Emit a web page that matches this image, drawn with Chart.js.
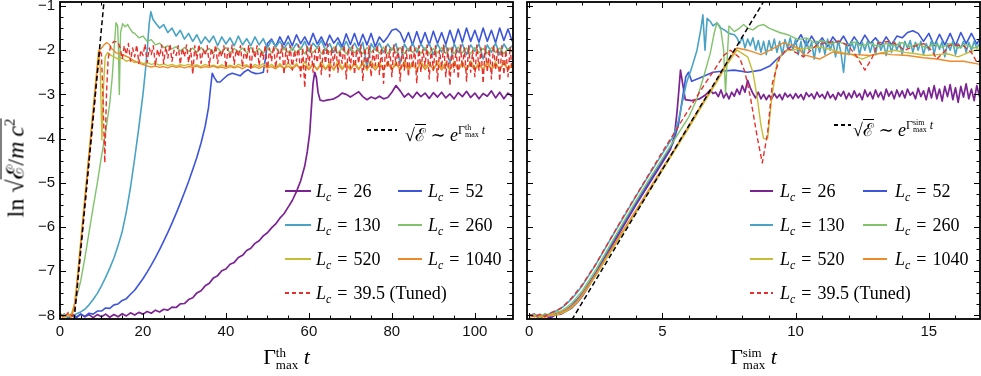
<!DOCTYPE html>
<html>
<head>
<meta charset="utf-8">
<script src="https://cdn.jsdelivr.net/npm/chart.js@4.4.1/dist/chart.umd.min.js"></script>
<style>
  body { margin: 0; background: #fff; }
  #wrap { position: relative; width: 981px; height: 376px; overflow: hidden; font-family: "Liberation Serif", "DejaVu Serif", serif; color: #000; }
  #wrap canvas { position: absolute; top: 0; }
  .txt { position: absolute; white-space: nowrap; font-size: 18px; line-height: 18px; }
  .txt sub { font-size: 12px; line-height: 0; vertical-align: -4px; }
  .eq { margin: 0 6px; }
  .smp { position: absolute; height: 1.6px; }
  .rt { display: inline-block; border-top: 1.2px solid #000; padding-top: 1px; line-height: 1; }
  .stk { display: inline-block; vertical-align: middle; line-height: 0.9; text-align: left; }
  .stk span { display: block; }
  .xt { position: absolute; top: 344px; text-align: center; font-size: 22px; white-space: nowrap; }
</style>
</head>
<body>
<div id="wrap">
  <canvas id="cTh" width="520" height="376" style="left:0"></canvas>
  <canvas id="cSim" width="461" height="376" style="left:520px"></canvas>
  <div style="position:absolute;left:15px;top:168px;transform:translate(-50%,-50%) rotate(-90deg);font-size:24px;white-space:nowrap;">ln √<span class="rt">ℰ/<i>m</i>&thinsp;<i>c</i><sup style="font-size:15px">2</sup></span></div>
  <div class="xt" style="left:60px;width:453px">Γ<span class="stk" style="font-size:13px"><span>th</span><span>max</span></span>&nbsp;<i>t</i></div>
  <div class="xt" style="left:527px;width:453px">Γ<span class="stk" style="font-size:13px"><span>sim</span><span>max</span></span>&nbsp;<i>t</i></div>
</div>
<script>
// ---- axes ----
const yMajor = [-8, -7, -6, -5, -4, -3, -2, -1];
const thXMajor = [0, 20, 40, 60, 80, 100];
const simXMajor = [0, 5, 10, 15];

const legendLc = ['26', '52', '130', '260', '520', '1040'];
const tunedLc = '39.5 (Tuned)';
const colors = ['#7b2393', '#3d55d9', '#4aa3c4', '#81c26b', '#c6bd35', '#ef8a2a', '#e5312d'];
const widths = [1.7, 1.6, 1.6, 1.4, 1.4, 1.4, 1.4];

// ---- left panel: Gamma_th t ----
const thRef = [[3.4, -8.1], [10.6, -0.9]];

const thL26 = [[0,-8.02],[1,-7.97],[2,-8.05],[3,-7.98],[4,-8.04],[5,-7.97],[6,-8.03],[7,-7.98],[8,-8.05],[9,-7.98],[10,-8.03],[11,-7.97],[12,-8.04],[13,-7.98],[14,-8.03],[15,-7.96],[16,-8.01],[17,-7.94],[18,-7.99],[19,-7.93],[20,-7.97],[21,-7.91],[22,-7.95],[23,-7.88],[24,-7.92],[25,-7.86],[26,-7.88],[27,-7.81],[28,-7.82],[29,-7.74],[30,-7.73],[31,-7.64],[32,-7.6],[33,-7.49],[34,-7.44],[35,-7.33],[36,-7.27],[37,-7.15],[38,-7.1],[39,-6.99],[40,-6.95],[41,-6.84],[42,-6.8],[43,-6.69],[44,-6.64],[45,-6.53],[46,-6.48],[47,-6.37],[48,-6.31],[49,-6.2],[50,-6.13],[51,-6.02],[52,-5.93],[53,-5.8],[54,-5.7],[55,-5.55],[56,-5.4],[57,-5.2],[58,-4.96],[59,-4.62],[59.6,-4.3],[60.2,-3.87],[60.6,-3.3],[61,-2.75],[61.4,-2.5],[61.8,-2.62],[62.2,-2.95],[62.7,-3.13],[63.5,-3.15],[64.3,-3.13]];
const thL26Tail = [-3.12,-3.1,-3.05,-2.97,-3.0,-3.06,-3.0,-2.94,-3.05,-3.12,-3.06,-3.1,-3.04,-3.1,-3.07,-2.95,-2.8,-2.92,-3.06,-2.98,-3.08,-2.95,-3.05,-2.97,-3.09,-2.96,-3.06,-2.95,-3.08,-2.99,-3.1,-2.96,-3.05,-2.93,-3.07,-2.97,-3.1,-2.98,-3.04,-2.92,-3.08,-2.95,-3.1,-2.97,-3.05];

const thL52 = [[0,-8.03],[1,-7.98],[2,-8.05],[3,-7.99],[4,-8.04],[5,-7.97],[6,-8.02],[7,-7.95],[8,-7.97],[9,-7.9],[10,-7.9],[11,-7.83],[12,-7.84],[13,-7.76],[14,-7.74],[15,-7.66],[16,-7.62],[17,-7.52],[18,-7.43],[19,-7.3],[20,-7.17],[21,-7.02],[22,-6.86],[23,-6.69],[24,-6.51],[25,-6.32],[26,-6.12],[27,-5.91],[28,-5.69],[29,-5.46],[30,-5.22],[31,-4.97],[32,-4.7],[33,-4.42],[34,-4.1],[35,-3.72],[35.8,-3.3],[36.3,-2.85],[36.7,-2.52],[37.2,-2.62],[37.9,-2.72],[38.6,-2.72],[39.5,-2.64],[40.5,-2.56],[41.5,-2.52],[42.5,-2.55],[43.4,-2.58],[44.3,-2.5],[45.3,-2.44],[46.2,-2.5],[47.2,-2.53],[48.2,-2.52],[49,-2.5],[49.5,-2.2]];
const thL52Tail = [-1.85,-1.75,-1.92,-1.7,-1.88,-1.68,-1.9,-1.65,-1.85,-1.7,-1.88,-1.62,-1.86,-1.7,-1.9,-1.66,-1.84,-1.72,-1.92,-1.63,-1.87,-1.62,-1.9,-1.64,-1.88,-1.62,-1.92,-1.7,-1.82,-1.7,-1.55,-1.52,-1.6,-1.82,-1.6,-1.88,-1.58,-1.86,-1.6,-1.88,-1.57,-1.85,-1.6,-1.87,-1.55,-1.84,-1.52,-1.82,-1.5,-1.8,-1.55,-1.82,-1.5,-1.8,-1.55,-1.83,-1.5,-1.78,-1.52,-1.8];

const thL130 = [[0,-8.0],[1,-8.04],[2,-7.98],[3,-8.02],[4,-7.96],[5,-7.92],[6,-7.86],[7,-7.76],[8,-7.64],[9,-7.5],[10,-7.33],[11,-7.14],[12,-6.93],[13,-6.7],[14,-6.42],[15,-6.1],[16,-5.65],[17,-5.1],[18,-4.45],[19,-3.75],[20,-3.0],[20.6,-2.45],[21.1,-1.9],[21.5,-1.4],[21.9,-1.13],[22.4,-1.3]];
const thL130Tail = [-1.38,-1.5,-1.42,-1.6,-1.5,-1.68,-1.55,-1.75,-1.62,-1.8,
  -1.65,-1.85,-1.7,-1.82,-1.68,-1.9,-1.7,-1.86,-1.72,-1.9,
  -1.68,-1.88,-1.74,-1.9,-1.7,-1.88,-1.74,-1.95,-1.78,-1.92,
  -1.8,-1.96,-1.82,-2.0,-1.85,-1.98,-1.8,-2.02,-1.84,-1.95,
  -1.78,-2.0,-1.85,-2.05,-1.82,-1.98,-1.8,-2.0,-1.84,-2.02,
  -1.82,-2.4,-1.85,-2.0,-1.84,-2.05,-1.86,-2.0,-1.85,-2.3,
  -1.86,-2.02,-1.84,-2.05,-1.86,-2.0,-1.85,-2.1,-1.86,-2.04,
  -1.88,-2.3,-1.85,-2.05,-1.86,-2.1,-1.88,-2.02,-1.86,-2.2,
  -1.88,-2.05,-1.84,-2.1,-1.86,-2.0,-1.9];

const thL260 = [[0,-8.02],[1,-7.97],[2,-8.03],[2.6,-7.97],[3,-7.9],[4,-7.58],[5,-7.22],[6,-6.7],[7,-6.12],[8,-5.55],[9,-5.0],[10,-4.4],[11,-3.85],[12,-3.2],[12.6,-2.6],[13.1,-1.9],[13.5,-1.38],[13.9,-1.45],[14.1,-2.0],[14.3,-3.0],[14.6,-1.6],[15.1,-1.4],[15.7,-1.47],[16.3,-1.42],[16.9,-1.52],[17.5,-1.6]];
const thL260Tail = [-1.62,-1.72,-1.68,-1.8,-1.76,-1.88,-1.84,-1.94,-1.9,-1.97,
  -1.92,-2.02,-1.94,-2.03,-1.95,-2.05,-1.94,-2.04,-1.96,-2.06,
  -1.95,-2.05,-1.94,-2.06,-1.96,-2.04,-1.95,-2.06,-1.94,-2.05,
  -1.96,-2.07,-1.95,-2.05,-1.94,-2.07,-1.96,-2.05,-1.95,-2.06,
  -1.94,-2.08,-1.95,-2.06,-1.94,-2.08,-1.96,-2.05,-1.93,-2.07,
  -1.95,-2.08,-1.94,-2.06,-1.96,-2.08,-1.94,-2.05,-1.95,-2.07,
  -1.93,-2.08,-1.95,-2.06,-1.94,-2.08,-1.96,-2.05,-1.95,-2.07,
  -1.94,-2.08,-1.96,-2.06,-1.94,-2.07,-1.95,-2.08,-1.93,-2.06,
  -1.95,-2.08,-1.94,-2.06,-1.96,-2.07,-1.94,-2.05,-1.95,-2.08,
  -1.96,-2.04];

const thL520 = [[0,-8.0],[1,-8.05],[2,-7.97],[2.6,-8.03],[3,-7.92],[3.5,-7.75],[4,-7.3],[5,-6.3],[6,-5.3],[7,-4.3],[8,-3.3],[8.8,-2.5],[9.3,-2.0],[9.7,-2.4],[10.1,-4.03],[10.5,-2.8],[10.9,-2.15],[11.5,-2.05]];
const thL520Tail = [-2.1,-2.15,-2.2,-2.18,-2.25,-2.22,-2.28,-2.26,-2.3,-2.28,
  -2.32,-2.3,-2.34,-2.31,-2.35,-2.32,-2.36,-2.33,-2.35,-2.32,
  -2.36,-2.33,-2.37,-2.32,-2.36,-2.34,-2.38,-2.33,-2.37,-2.34,
  -2.38,-2.32,-2.36,-2.33,-2.4,-2.32,-2.37,-2.3,-2.38,-2.32,
  -2.4,-2.3,-2.42,-2.28,-2.4,-2.3,-2.44,-2.26,-2.42,-2.3,
  -2.45,-2.25,-2.42,-2.28,-2.46,-2.24,-2.4,-2.28,-2.45,-2.25,
  -2.42,-2.26,-2.46,-2.24,-2.4,-2.27,-2.45,-2.25,-2.43,-2.26,
  -2.46,-2.24,-2.42,-2.27,-2.45,-2.25,-2.4,-2.26,-2.46,-2.24,
  -2.42,-2.27,-2.45,-2.25,-2.43,-2.26,-2.46,-2.24,-2.42,-2.27,
  -2.45,-2.25,-2.43,-2.26,-2.46,-2.24,-2.42,-2.3];

const thL1040 = [[0,-7.97],[1,-8.02],[2,-7.96],[2.7,-8.04],[3,-7.98],[3.6,-7.7],[4,-7.4],[5,-6.4],[6,-5.4],[7,-4.4],[8,-3.4],[9,-2.4],[9.5,-2.0],[10,-1.95],[10.6,-1.88],[11.2,-1.83],[11.8,-1.86],[12.5,-1.97],[13.5,-2.06],[14.5,-2.08],[15.5,-2.12],[16.5,-2.16],[17.5,-2.22],[18.5,-2.27],[19.5,-2.31],[20.5,-2.34],[21.5,-2.37]];
const thL1040Tail = [-2.38,-2.36,-2.39,-2.37,-2.4,-2.36,-2.39,-2.37,-2.4,-2.37,
  -2.39,-2.36,-2.4,-2.37,-2.39,-2.36,-2.4,-2.38,-2.41,-2.37,
  -2.4,-2.37,-2.42,-2.36,-2.4,-2.37,-2.41,-2.36,-2.4,-2.37,
  -2.42,-2.35,-2.41,-2.36,-2.43,-2.34,-2.42,-2.35,-2.44,-2.33,
  -2.43,-2.32,-2.44,-2.33,-2.42,-2.31,-2.44,-2.33,-2.43,-2.32,
  -2.44,-2.31,-2.42,-2.33,-2.45,-2.32,-2.43,-2.3,-2.44,-2.32,
  -2.42,-2.31,-2.45,-2.33,-2.43,-2.3,-2.44,-2.32,-2.42,-2.31,
  -2.45,-2.33,-2.43,-2.3,-2.44,-2.32,-2.42,-2.31,-2.45,-2.33,
  -2.43,-2.3,-2.44,-2.32,-2.42,-2.31,-2.43,-2.35];

const thTuned = [[0,-7.95],[1,-8.05],[2,-7.93],[3,-8.02],[3.6,-7.85],[4,-7.55],[5,-6.55],[6,-5.55],[7,-4.55],[8,-3.55],[9,-2.55],[9.6,-2.0],[10,-2.1],[10.4,-3.2],[10.8,-4.55],[11.2,-3.0],[11.6,-2.2],[12.2,-1.9],[13,-1.8],[14,-1.82],[14.5,-1.95]];
// sampled every 0.5 from t = 15
const thTunedTail = [-2.2,-1.9,-2.1,-1.85,-2.25,-1.95,-2.15,-1.88,-2.3,-2.0,
  -2.12,-1.86,-2.28,-1.95,-2.1,-1.9,-2.35,-1.98,-2.15,-1.88,
  -2.3,-1.92,-2.18,-1.86,-2.25,-2.0,-2.12,-1.9,-2.32,-1.95,
  -2.15,-1.88,-2.28,-1.96,-2.55,-1.9,-2.2,-1.87,-2.3,-1.98,
  -2.12,-1.9,-2.35,-1.95,-2.18,-1.88,-2.3,-2.0,-2.15,-1.9,
  -2.4,-1.95,-2.2,-1.88,-2.32,-1.98,-2.15,-1.9,-2.38,-1.96,
  -2.22,-1.88,-2.45,-1.95,-2.18,-1.9,-2.35,-2.0,-2.2,-1.88,
  -2.5,-1.95,-2.25,-1.9,-2.4,-1.98,-2.2,-1.88,-2.55,-1.95,
  -2.3,-1.9,-2.45,-2.0,-2.25,-1.88,-2.6,-1.95,-2.85,-1.92,
  -2.35,-1.88,-2.5,-2.0,-2.28,-1.9,-2.55,-1.95,-2.3,-1.86,
  -2.6,-1.95,-2.35,-1.9,-2.5,-2.0,-2.3,-1.88,-2.65,-1.95,
  -2.4,-1.9,-2.55,-1.98,-2.3,-1.88,-2.7,-1.95,-2.4,-1.9,
  -2.6,-2.0,-2.35,-1.88,-2.55,-1.95,-2.75,-1.9,-2.4,-1.98,
  -2.6,-1.88,-2.35,-1.95,-2.7,-1.9,-2.45,-2.0,-2.6,-1.88,
  -2.4,-1.95,-2.75,-1.9,-2.5,-1.98,-2.35,-1.88,-2.65,-1.95,
  -2.45,-1.9,-2.7,-2.0,-2.4,-1.88,-2.6,-1.95,-2.8,-1.9,
  -2.5,-1.98,-2.65,-1.88,-2.4,-1.95,-2.7,-1.9,-2.5,-2.0,
  -2.6,-1.88,-2.45,-1.95,-2.75,-1.9,-2.5,-1.98,-2.65,-1.88,
  -2.45,-1.95,-2.7,-1.9,-2.55,-2.0,-2.6,-1.92,-2.5];

// ---- right panel: Gamma_sim t ----
const simRef = [[1.6, -8.1], [8.8, -0.9]];

const simL26 = [[0,-8.0],[0.2,-7.97],[0.4,-8.05],[0.6,-8.0],[0.8,-8.06],[1.0,-7.98],[1.2,-7.97],[1.4,-7.9],[1.6,-7.83],[1.8,-7.71],[2.0,-7.56],[2.5,-7.08],[3.0,-6.55],[3.5,-6.02],[4.0,-5.51],[4.5,-5.02],[5.0,-4.54],[5.3,-4.25],[5.45,-3.95],[5.55,-3.4],[5.62,-2.9],[5.68,-2.45],[5.76,-2.75],[5.86,-3.12],[6.1,-3.14],[6.4,-3.1],[6.6,-3.02],[6.8,-2.9],[6.9,-2.98]];
const simL26Tail = [-2.95,-3.05,-2.9,-3.08,-2.97,-3.1,-2.95,-3.04,-2.88,-3.0,
  -2.8,-2.95,-2.68,-2.85,-2.98,-3.08,-2.95,-3.1,-3.0,-3.12,
  -3.02,-3.1,-2.98,-3.08,-3.0,-3.12,-2.97,-3.06,-3.0,-3.1,
  -2.98,-3.08,-3.0,-3.12,-2.96,-3.05,-2.99,-3.1,-2.95,-3.06,
  -3.0,-3.1,-2.94,-3.08,-3.0,-3.12,-2.96,-3.04,-2.93,-3.1,
  -2.97,-3.08,-2.92,-3.06,-2.98,-3.12,-2.9,-3.05,-2.95,-3.1,
  -2.9,-3.06,-2.95,-3.12,-2.88,-3.04,-2.93,-3.1,-2.9,-3.05,
  -2.92,-3.08,-2.88,-3.02,-2.95,-3.1,-2.86,-3.05,-2.92,-3.12,
  -2.85,-3.08,-2.8,-3.1,-2.88,-3.15,-2.82,-3.05,-2.78,-3.12,
  -2.85,-3.18,-2.82,-3.06,-2.76,-3.1,-2.88,-3.14,-2.8,-3.05];

const simL52 = [[0,-8.03],[0.2,-8.0],[0.4,-8.06],[0.6,-7.98],[0.8,-8.02],[1.0,-7.96],[1.2,-7.93],[1.4,-7.86],[1.6,-7.77],[1.8,-7.64],[2.0,-7.5],[2.5,-7.03],[3.0,-6.5],[3.5,-5.98],[4.0,-5.47],[4.5,-4.98],[5.0,-4.5],[5.4,-4.1],[5.6,-3.7],[5.75,-3.1],[5.88,-2.6],[5.98,-2.5],[6.1,-2.7],[6.4,-2.63],[6.7,-2.55],[6.9,-2.5],[7.3,-2.47],[7.7,-2.45],[8.2,-2.5],[8.7,-2.45],[9.05,-2.35],[9.3,-2.2],[9.55,-2.07],[9.8,-1.93]];
const simL52Tail = [-1.85,-1.65,-1.9,-1.68,-1.88,-1.72,-1.92,-1.7,-1.86,-1.68,
  -1.9,-1.7,-1.88,-1.66,-1.85,-1.72,-1.9,-1.7,-1.88,-1.68,
  -1.72,-1.6,-1.56,-1.62,-1.8,-1.62,-1.9,-1.64,-1.88,-1.62,
  -1.9,-1.6,-1.85,-1.62,-1.86,-1.65];

const simL130 = [[0,-7.98],[0.2,-8.02],[0.4,-7.97],[0.6,-8.03],[0.8,-7.95],[1.0,-7.9],[1.2,-7.84],[1.4,-7.74],[1.6,-7.62],[1.8,-7.48],[2.0,-7.32],[2.5,-6.85],[3.0,-6.33],[3.5,-5.82],[4.0,-5.31],[4.5,-4.82],[5.0,-4.34],[5.4,-3.96],[5.6,-3.6],[5.9,-2.75],[6.1,-2.4],[6.3,-2.0],[6.45,-1.5],[6.52,-1.2],[6.6,-2.0],[6.68,-1.28],[6.8,-1.35],[6.9,-1.45],[7.05,-1.38],[7.2,-1.5],[7.35,-1.55],[7.5,-1.62],[7.7,-1.65]];
const simL130Tail = [-1.72,-1.85,-1.7,-1.95,-1.75,-1.9,-1.72,-2.0,-1.78,-2.05,
  -1.8,-2.1,-1.78,-2.0,-1.75,-2.05,-1.8,-2.1,-1.76,-1.95,
  -1.72,-2.0,-1.75,-2.1,-1.8,-2.15,-1.76,-2.0,-1.82,-2.2,
  -1.8,-2.05,-1.78,-2.1,-1.75,-2.0,-1.8,-2.15,-1.78,-2.05,
  -2.5,-1.85,-2.1,-1.8,-2.0,-1.78,-2.1,-1.82,-2.0,-1.8,
  -2.05,-1.82,-2.1,-1.78,-2.0,-1.85,-2.12,-1.8,-2.05,-1.78,
  -2.0,-1.82,-2.1,-1.8,-1.95,-1.78,-2.05,-1.82,-2.0,-1.8,
  -2.1,-1.85,-2.0,-1.78,-2.08,-1.82,-1.98,-1.8,-2.15,-1.85,
  -2.0,-1.8,-2.1,-1.85,-1.95,-1.8,-2.05,-1.82,-2.0,-1.8,
  -1.95,-1.85,-1.9];

const simL260 = [[0,-8.02],[0.2,-7.98],[0.4,-8.03],[0.6,-7.96],[0.8,-8.0],[1.0,-7.93],[1.2,-7.9],[1.4,-7.82],[1.6,-7.72],[1.8,-7.58],[2.0,-7.44],[2.5,-6.97],[3.0,-6.45],[3.5,-5.93],[4.0,-5.42],[4.5,-4.93],[5.0,-4.45],[5.5,-3.98],[6.0,-3.5],[6.3,-3.1],[6.55,-2.6],[6.8,-2.06],[6.95,-1.6],[7.05,-1.38],[7.2,-1.55],[7.3,-2.0],[7.37,-2.97],[7.45,-2.0],[7.5,-1.45],[7.7,-1.58],[7.9,-1.5],[8.05,-1.42],[8.2,-1.5],[8.4,-1.54],[8.6,-1.45],[8.8,-1.42],[9.0,-1.5],[9.4,-1.6],[9.7,-1.65],[10.1,-1.76],[10.4,-1.72],[10.7,-1.83],[11.0,-1.78],[11.3,-1.86],[11.6,-1.8],[11.9,-1.88],[12.2,-1.82],[12.5,-1.9],[12.8,-1.84],[13.1,-1.92],[13.4,-1.85],[13.7,-1.9],[14.0,-1.83],[14.3,-1.92],[14.6,-1.86],[14.9,-1.95],[15.2,-1.86],[15.5,-1.93],[15.8,-1.85],[16.1,-1.95],[16.4,-1.88],[16.7,-1.95],[17.0,-1.88]];

const simL520 = [[0,-8.04],[0.2,-8.0],[0.4,-8.04],[0.6,-8.02],[0.8,-8.0],[1.0,-7.99],[1.2,-7.96],[1.4,-7.9],[1.6,-7.82],[1.8,-7.7],[2.0,-7.55],[2.5,-7.1],[3.0,-6.62],[3.5,-6.15],[4.0,-5.68],[4.5,-5.2],[5.0,-4.72],[5.5,-4.24],[6.0,-3.75],[6.5,-3.25],[7.0,-2.76],[7.4,-2.35],[7.8,-2.0],[8.2,-2.15],[8.4,-2.5],[8.57,-3.12],[8.7,-3.7],[8.8,-4.0],[8.95,-4.0],[9.1,-3.1],[9.3,-2.27],[9.5,-2.08],[9.7,-2.0],[10.1,-1.98],[10.5,-1.95],[10.9,-1.93],[11.3,-1.98],[11.7,-2.05],[12.1,-2.1],[12.5,-2.2],[12.9,-2.1],[13.3,-2.05],[13.7,-2.0],[14.1,-2.05],[14.5,-2.08],[14.9,-2.12],[15.3,-2.1],[15.7,-2.08],[16.1,-2.15],[16.5,-2.05],[17.0,-1.95]];

const simL1040 = [[0,-8.0],[0.2,-8.03],[0.4,-7.99],[0.6,-8.04],[0.8,-7.98],[1.0,-7.97],[1.2,-7.93],[1.4,-7.87],[1.6,-7.79],[1.8,-7.67],[2.0,-7.52],[2.5,-7.07],[3.0,-6.58],[3.5,-6.1],[4.0,-5.63],[4.5,-5.15],[5.0,-4.67],[5.5,-4.2],[6.0,-3.7],[6.5,-3.2],[7.0,-2.72],[7.4,-2.3],[7.8,-1.95],[8.2,-2.0],[8.7,-2.1],[9.2,-1.95],[9.55,-1.83],[10.1,-1.95],[10.3,-2.1],[10.9,-2.2],[11.4,-2.04],[11.8,-2.08],[12.3,-2.1],[12.8,-2.12],[13.2,-2.07],[13.6,-2.1],[14.2,-2.12],[14.8,-2.17],[15.3,-2.2],[15.8,-2.25],[16.3,-2.25],[17.0,-2.33]];

const simTuned = [[0,-7.97],[0.2,-8.04],[0.4,-7.98],[0.6,-8.02],[0.8,-7.94],[1.0,-7.9],[1.2,-7.83],[1.4,-7.72],[1.6,-7.6],[1.8,-7.45],[2.0,-7.3],[2.5,-6.84],[3.0,-6.32],[3.5,-5.8],[4.0,-5.3],[4.5,-4.8],[5.0,-4.3],[5.5,-3.82],[6.0,-3.33],[6.5,-2.85],[7.0,-2.4],[7.3,-2.12],[7.55,-2.0],[7.9,-2.17],[8.1,-2.5],[8.3,-3.05],[8.57,-4.0],[8.75,-4.55],[8.95,-3.87],[9.13,-2.74],[9.4,-2.17],[9.7,-1.95],[10.0,-2.05],[10.3,-2.15],[10.8,-1.88],[11.2,-1.82],[11.7,-1.8],[12.0,-1.92],[12.3,-2.15],[12.6,-2.45],[12.85,-2.2],[13.1,-1.83],[13.6,-1.8],[14.1,-2.0],[14.4,-1.92],[14.8,-1.85],[15.1,-2.0],[15.3,-2.2],[15.55,-2.05],[15.8,-1.88],[16.3,-1.9],[16.6,-2.05],[16.8,-2.27],[17.0,-2.2]];

// ---- helpers ----
function pts(pairs) {
    return pairs.map(([x, y]) => ({ x, y }));
}
function seq(t0, dt, vals) {
    return vals.map((v, i) => ({ x: +(t0 + i * dt).toFixed(3), y: v }));
}

function makeSets(series, ref) {
    // drawn like Mathematica: first series at the bottom, reference line on top
    const sets = series.map((data, i) => ({
        data: data,
        borderColor: colors[i],
        borderWidth: widths[i],
        borderDash: i === 6 ? [5, 3] : [],
        order: 7 - i
    }));
    sets.push({ data: pts(ref), borderColor: '#000', borderWidth: 1.5, borderDash: [5, 3], order: 0 });
    return sets;
}

const framePlugin = {
    id: 'frame',
    afterDatasetsDraw(chart, args, o) {
        const { ctx, chartArea: a } = chart;
        const xs = chart.scales.x, ys = chart.scales.y;
        ctx.save();
        ctx.strokeStyle = '#000';
        ctx.lineWidth = 1;
        const seg = (x1, y1, x2, y2) => { ctx.beginPath(); ctx.moveTo(x1, y1); ctx.lineTo(x2, y2); ctx.stroke(); };
        for (let v = Math.ceil(xs.min / o.xMinor) * o.xMinor; v <= xs.max; v += o.xMinor) {
            const p = Math.round(xs.getPixelForValue(v)) + 0.5;
            const len = o.xMajor.includes(v) ? 6 : 3.5;
            seg(p, a.bottom, p, a.bottom - len);
            seg(p, a.top, p, a.top + len);
        }
        for (let k = 0; k <= 28; k++) {
            const v = -8 + k * 0.25;
            const p = Math.round(ys.getPixelForValue(v)) + 0.5;
            const len = yMajor.includes(v) ? 6 : 3.5;
            seg(a.left, p, a.left + len, p);
            seg(a.right, p, a.right - len, p);
        }
        ctx.lineWidth = 1.8;
        ctx.strokeRect(a.left, a.top, a.width, a.height);

        ctx.fillStyle = '#111';
        ctx.font = '15px "Liberation Sans", Arial, sans-serif';
        ctx.textAlign = 'center';
        ctx.textBaseline = 'middle';
        o.xMajor.forEach(v => ctx.fillText(String(v), xs.getPixelForValue(v), a.bottom + 13));
        if (o.yLabels) {
            ctx.textAlign = 'right';
            yMajor.forEach(v => ctx.fillText(String(v).replace('-', '\u2212'), a.left - 5, ys.getPixelForValue(v)));
        }
        ctx.restore();
    }
};

function makeChart(id, sets, xmin, xmax, pad, frameOpts) {
    return new Chart(document.getElementById(id), {
        type: 'line',
        data: { datasets: sets },
        options: {
            responsive: false,
            animation: false,
            devicePixelRatio: 1,
            layout: { padding: pad },
            elements: { point: { radius: 0 }, line: { tension: 0, borderJoinStyle: 'round' } },
            scales: {
                x: { type: 'linear', min: xmin, max: xmax, display: false },
                y: { type: 'linear', min: -8.08, max: -0.91, display: false }
            },
            plugins: { legend: { display: false }, tooltip: { enabled: false }, frame: frameOpts }
        },
        plugins: [framePlugin]
    });
}

const thSeries = [
    pts(thL26).concat(seq(65, 1, thL26Tail)),
    pts(thL52).concat(seq(50, 1, thL52Tail)),
    pts(thL130).concat(seq(23, 1, thL130Tail)),
    pts(thL260).concat(seq(18, 1, thL260Tail)),
    pts(thL520).concat(seq(12, 1, thL520Tail)),
    pts(thL1040).concat(seq(22, 1, thL1040Tail)),
    pts(thTuned).concat(seq(15, 0.5, thTunedTail))
];
const simSeries = [
    pts(simL26).concat(seq(7, 0.1, simL26Tail)),
    pts(simL52).concat(seq(10, 0.2, simL52Tail)),
    pts(simL130).concat(seq(7.8, 0.1, simL130Tail)),
    pts(simL260),
    pts(simL520),
    pts(simL1040),
    pts(simTuned)
];

makeChart('cTh', makeSets(thSeries, thRef), 0, 109.2,
    { left: 60, right: 7, top: 2, bottom: 57 },
    { xMajor: thXMajor, xMinor: 5, yLabels: true });
makeChart('cSim', makeSets(simSeries, simRef), -0.08, 16.92,
    { left: 7, right: 1, top: 2, bottom: 57 },
    { xMajor: simXMajor, xMinor: 1, yLabels: false });

// ---- legends (HTML text) ----
const wrap = document.getElementById('wrap');
function addSample(x, y, w, color, dashed) {
    const d = document.createElement('div');
    d.className = 'smp';
    d.style.left = x + 'px';
    d.style.top = (y - 0.8) + 'px';
    d.style.width = w + 'px';
    d.style.background = dashed
        ? `repeating-linear-gradient(90deg, ${color} 0 4px, transparent 4px 7px)`
        : color;
    wrap.appendChild(d);
}
function addText(x, y, html) {
    const d = document.createElement('div');
    d.className = 'txt';
    d.style.left = x + 'px';
    d.style.top = (y - 9) + 'px';
    d.innerHTML = html;
    wrap.appendChild(d);
}
const lcText = v => `<i>L</i><sub><i>c</i></sub><span class="eq">=</span>${v}`;
const refText = g => `√<span class="rt">ℰ</span> ∼ <i>e</i><sup style="font-size:12px;vertical-align:7px">Γ<span class="stk" style="font-size:8px"><span>${g}</span><span>max</span></span> <i>t</i></sup>`;

function buildLegend(L) {
    const rows = [191, 225, 259];
    for (let i = 0; i < 6; i++) {
        const r = rows[Math.floor(i / 2)];
        const c = i % 2;
        addSample(c ? L.c2 : L.c1, r, c ? L.w2 : L.w1, colors[i], false);
        addText(c ? L.t2 : L.t1, r, lcText(legendLc[i]));
    }
    addSample(L.c1, 293, L.w1, colors[6], true);
    addText(L.t1, 293, lcText(tunedLc));
    addSample(L.rx, L.ry, L.rw, '#000', true);
    addText(L.rt, L.ry, refText(L.g));
}
buildLegend({ c1: 285, w1: 26, t1: 316, c2: 398, w2: 24, t2: 428, rx: 367, rw: 30, rt: 405, ry: 130, g: 'th' });
buildLegend({ c1: 750, w1: 23, t1: 780, c2: 863, w2: 24, t2: 895, rx: 834, rw: 17, rt: 853, ry: 125, g: 'sim' });
</script>
</body>
</html>
